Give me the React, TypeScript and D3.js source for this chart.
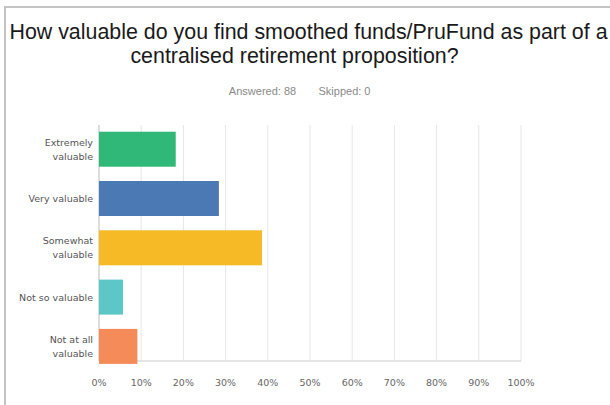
import React from "react";
import * as d3 from "d3";

const categories = ["Extremely valuable", "Very valuable", "Somewhat valuable", "Not so valuable", "Not at all valuable"];
const labelLines = [["Extremely", "valuable"], ["Very valuable"], ["Somewhat", "valuable"], ["Not so valuable"], ["Not at all", "valuable"]];
const values = [18.18, 28.41, 38.64, 5.68, 9.09];
const colors = ["#2fb877", "#4a79b3", "#f6ba27", "#5dc7c8", "#f48b58"];
const ticks = [0, 10, 20, 30, 40, 50, 60, 70, 80, 90, 100];
const titleLines = ["How valuable do you find smoothed funds/PruFund as part of a", "centralised retirement proposition?"];
const subtitle = ["Answered: 88", "Skipped: 0"];

export default function App() {
  const W = 610, H = 405;
  const x = d3.scaleLinear().domain([0, 100]).range([99, 521]);
  const y = d3.scaleBand<string>().domain(categories).range([125, 370.6]).paddingInner(0.29).paddingOuter(0.136);
  const axisY = 361;
  const labelFont = "'DejaVu Sans', sans-serif";
  const titleFont = "'Liberation Sans', Arial, sans-serif";
  return (
    <svg width={W} height={H} style={{ position: "absolute", left: 0, top: 0, background: "#fff" }}>
      <rect x={0} y={0} width={W} height={H} fill="#fff" />
      <line x1={5} x2={5} y1={6} y2={H} stroke="#c4c4c4" strokeWidth={2} />
      <line x1={4} x2={W} y1={7} y2={7} stroke="#c4c4c4" strokeWidth={2} />
      <text x={308.5} y={39} textAnchor="middle" fontFamily={titleFont} fontSize={21.4} fill="#1a1a1a">{titleLines[0]}</text>
      <text x={294.5} y={63} textAnchor="middle" fontFamily={titleFont} fontSize={21.4} fill="#1a1a1a">{titleLines[1]}</text>
      <text x={262.5} y={95} textAnchor="middle" fontFamily={titleFont} fontSize={11} fill="#8a8a8a">{subtitle[0]}</text>
      <text x={344.5} y={95} textAnchor="middle" fontFamily={titleFont} fontSize={11} fill="#8a8a8a">{subtitle[1]}</text>
      {ticks.map((t) => (
        <line key={"g" + t} x1={x(t)} x2={x(t)} y1={125} y2={axisY} stroke="#e6e6e6" strokeWidth={1} />
      ))}
      <line x1={x(0)} x2={x(100)} y1={axisY} y2={axisY} stroke="#dcdcdc" strokeWidth={1.5} />
      <line x1={x(0)} x2={x(0)} y1={125} y2={axisY} stroke="#d6d6d6" strokeWidth={1.5} />
      {categories.map((c, i) => (
        <rect key={c} x={x(0)} y={y(c)!} width={x(values[i]) - x(0)} height={y.bandwidth()} fill={colors[i]} />
      ))}
      {categories.map((c, i) => {
        const cy = y(c)! + y.bandwidth() / 2;
        const lines = labelLines[i];
        const lh = 14;
        const start = cy - ((lines.length - 1) * lh) / 2;
        return (
          <text key={"l" + c} x={93} textAnchor="end" fontFamily={labelFont} fontSize={9.5} fill="#555">
            {lines.map((ln, j) => (
              <tspan key={j} x={93} y={start + j * lh + 3.5}>{ln}</tspan>
            ))}
          </text>
        );
      })}
      {ticks.map((t) => (
        <text key={"t" + t} x={x(t)} y={386} textAnchor="middle" fontFamily={labelFont} fontSize={9.5} fill="#666">{t + "%"}</text>
      ))}
    </svg>
  );
}
